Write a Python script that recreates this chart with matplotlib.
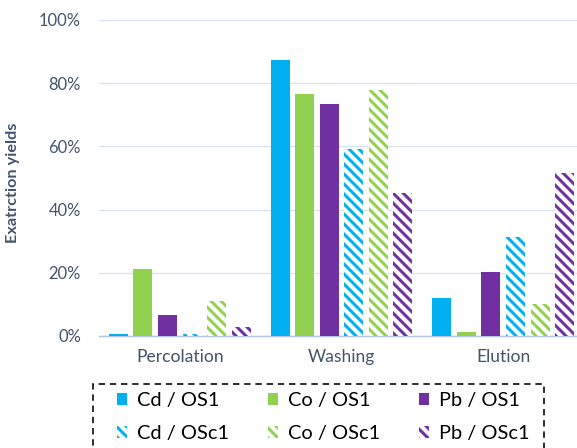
import matplotlib
matplotlib.use("Agg")
import matplotlib.pyplot as plt
from matplotlib.patches import Patch, Rectangle
import numpy as np

categories = ["Percolation", "Washing", "Elution"]
series_names = ["Cd / OS1", "Co / OS1", "Pb / OS1", "Cd / OSc1", "Co / OSc1", "Pb / OSc1"]
cd_os1 = [0.5, 87.3, 12.0]
co_os1 = [21.3, 76.6, 1.3]
pb_os1 = [6.6, 73.4, 20.2]
cd_osc1 = [0.5, 59.2, 31.2]
co_osc1 = [11.1, 77.8, 10.1]
pb_osc1 = [3.0, 45.2, 51.6]
yticks = [0, 20, 40, 60, 80, 100]
ytick_labels = ["0%", "20%", "40%", "60%", "80%", "100%"]

CD, CO, PB = "#00B0F0", "#92D050", "#7030A0"
colors = [CD, CO, PB, CD, CO, PB]
hatched = [False, False, False, True, True, True]
values = [cd_os1, co_os1, pb_os1, cd_osc1, co_osc1, pb_osc1]

DPI = 60
PT = 72.0 / DPI  # points per pixel
plt.rcParams["font.family"] = ["Lato", "DejaVu Sans"]
plt.rcParams["hatch.linewidth"] = 3.0 * PT
HATCH = "\\\\"

fig = plt.figure(figsize=(577 / DPI, 448 / DPI), dpi=DPI)
ax = fig.add_axes([99 / 577, 112 / 448, 485 / 577, 316 / 448])

x = np.arange(len(categories))
step = 0.152
width = 0.1175
for i, (vals, c, h) in enumerate(zip(values, colors, hatched)):
    pos = x + (i - 2.5) * step
    if h:
        ax.bar(pos, vals, width, facecolor="white", edgecolor=c, hatch=HATCH, linewidth=0, zorder=3)
    else:
        ax.bar(pos, vals, width, color=c, linewidth=0, zorder=3)

ax.set_xlim(-0.5, 2.5)
ax.set_ylim(0, 100)
ax.set_yticks(yticks)
ax.set_yticklabels(ytick_labels)
ax.set_xticks(x)
ax.set_xticklabels(categories)
txtc = "#44546A"
ax.tick_params(axis="y", length=0, pad=18 * PT, labelsize=16.5 * PT, labelcolor=txtc)
ax.tick_params(axis="x", length=0, pad=13 * PT, labelsize=17.5 * PT, labelcolor=txtc)
ax.grid(axis="y", color="#D9E2F3", linewidth=1.3 * PT, zorder=0)
for s in ["top", "right", "left"]:
    ax.spines[s].set_visible(False)
ax.spines["bottom"].set_color("#B4C7E7")
ax.spines["bottom"].set_linewidth(1.5 * PT)
ax.set_ylabel("Exatrction yields", fontsize=16.2 * PT, fontweight="bold", color=txtc)
ax.yaxis.set_label_coords(-0.163, 0.485)

handles = []
order = [0, 3, 1, 4, 2, 5]
for i in order:
    if hatched[i]:
        handles.append(Patch(facecolor="white", edgecolor=colors[i], hatch=HATCH, linewidth=0))
    else:
        handles.append(Patch(facecolor=colors[i], linewidth=0))
labels = [series_names[i] for i in order]
leg = fig.legend(handles, labels, ncol=3, loc="upper left",
                 bbox_to_anchor=(117 / 577, 1 - 392 / 448),
                 fontsize=20 * PT, frameon=False,
                 handlelength=0.5, handleheight=0.5, handletextpad=0.5,
                 columnspacing=1.95, labelspacing=0.8, borderpad=0,
                 borderaxespad=0)

frame = Rectangle((93 / 577, -0.02), (544 - 93) / 577, 0.02 + (448 - 384) / 448,
                  transform=fig.transFigure, fill=False, edgecolor="black",
                  linestyle=(0, (4, 3)), linewidth=1.6 * PT)
fig.patches.append(frame)

fig.savefig("out.png", dpi=DPI)
